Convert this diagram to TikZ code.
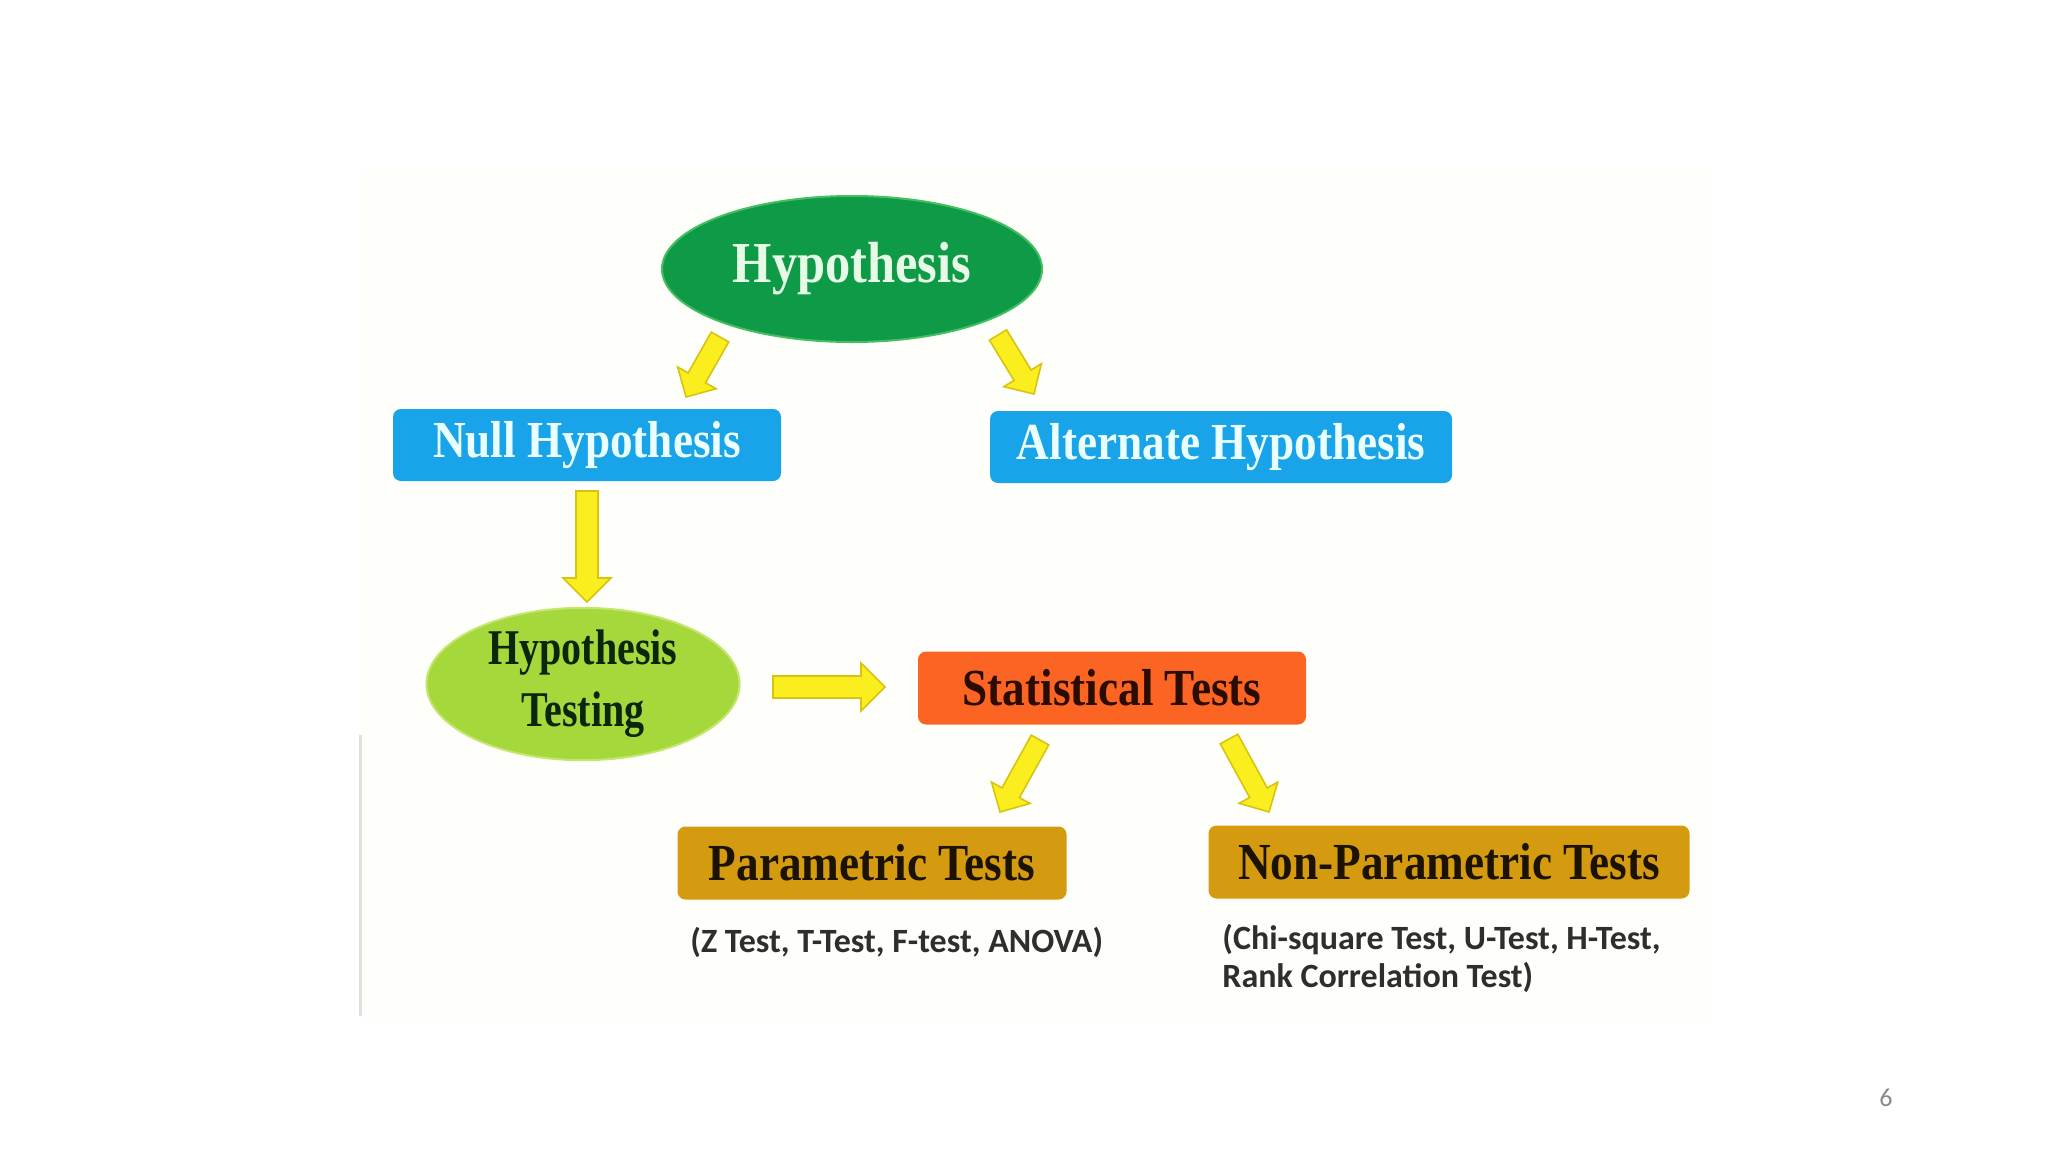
\documentclass[tikz,border=0pt]{standalone}
\usepackage{fontspec}
\usetikzlibrary{calc,shapes.geometric}
\setmainfont{Liberation Serif}
\newfontfamily\boxfont[FakeStretch=0.87]{Liberation Serif}
\newfontfamily\htfont[FakeStretch=0.80]{Liberation Serif}
\newfontfamily\notefont{Carlito}
\definecolor{hypgreen}{HTML}{0F9A47}
\definecolor{hypedge}{HTML}{45BE62}
\definecolor{mint}{HTML}{E6FBE6}
\definecolor{boxblue}{HTML}{19A3E8}
\definecolor{bluetext}{HTML}{EAFFFF}
\definecolor{lime}{HTML}{A5D83B}
\definecolor{limeedge}{HTML}{C4E56E}
\definecolor{darkgreen}{HTML}{0C260C}
\definecolor{stred}{HTML}{FB6423}
\definecolor{sttext}{HTML}{2A0C00}
\definecolor{gold}{HTML}{D59B10}
\definecolor{goldtext}{HTML}{1C1200}
\definecolor{ayellow}{HTML}{FAEE1E}
\definecolor{aedge}{HTML}{D8C410}
\definecolor{notegray}{HTML}{2E2E2E}
\definecolor{cream}{HTML}{FEFEFA}
\definecolor{pagegray}{HTML}{8A8A8A}
\newcommand\yarrow[5]{% #1 start, #2 end, #3 shaft half width, #4 head half width, #5 head length
  \coordinate (#1-base) at ($(#2)!#5!(#1)$);
  \path[arrowbody] ($(#1)!#3!90:(#2)$) -- ($(#1-base)!#3!90:(#2)$) -- ($(#1-base)!#4!90:(#2)$)
    -- (#2) -- ($(#1-base)!#4!-90:(#2)$) -- ($(#1-base)!#3!-90:(#2)$) -- ($(#1)!#3!-90:(#2)$) -- cycle;
}
\begin{document}
\begin{tikzpicture}[x=0.5pt,y=-0.5pt,
  arrowbody/.style={fill=ayellow, draw=aedge, line width=0.8pt, line join=miter},
  boxbase/.style={rectangle, rounded corners=4pt, inner sep=0pt,
    font=\boxfont\bfseries\fontsize{26}{30}\selectfont},
  bluebox/.style={boxbase, fill=boxblue, text=bluetext, minimum height=36pt},
  redbox/.style={boxbase, fill=stred, text=sttext, minimum height=36.5pt},
  goldbox/.style={boxbase, fill=gold, text=goldtext, minimum height=36.5pt},
  note/.style={font=\notefont\bfseries\fontsize{17}{19}\selectfont, text=notegray, inner sep=0pt, align=left}
]
\useasboundingbox (0,0) rectangle (2048,1152);
\fill[white] (0,0) rectangle (2048,1152);
\fill[cream] (359,170) rectangle (1711,1019);
\draw[line width=1.5pt, color=black!12] (360,735) -- (360,1016);

\node[ellipse, fill=hypgreen, draw=hypedge, line width=1pt, minimum width=190pt, minimum height=73pt,
  inner sep=0pt, text=mint, font=\boxfont\bfseries\fontsize{29}{32}\selectfont] (hyp) at (852,269) {Hypothesis};
\node[bluebox, minimum width=194pt] (null) at (587,445) {Null Hypothesis};
\node[bluebox, minimum width=231pt] (alt) at (1221,447) {Alternate Hypothesis};
\node[ellipse, fill=lime, draw=limeedge, line width=1pt, minimum width=156.5pt, minimum height=69.5pt,
  inner sep=0pt, text=darkgreen, align=center,
  font=\htfont\bfseries\fontsize{25}{31}\selectfont] (ht) at (583,684) {Hypothesis\\Testing};
\node[redbox, minimum width=194pt] (st) at (1112,688) {Statistical Tests};
\node[goldbox, minimum width=194.5pt] (par) at (872,863) {Parametric Tests};
\node[goldbox, minimum width=240.5pt] (npar) at (1449,862) {Non-Parametric Tests};

\node[note, anchor=west] (parnote) at (690,942) {(Z Test, T-Test, F-test, ANOVA)};
\node[note, anchor=west] (nparnote) at (1222,958) {(Chi-square Test, U-Test, H-Test,\\Rank Correlation Test)};

\node[font=\notefont\fontsize{13}{15}\selectfont, text=pagegray, inner sep=0pt] (page) at (1886,1098) {6};

\coordinate (a1s) at (720,337);
\coordinate (a1e) at (686,397);
\coordinate (a2s) at (998,335);
\coordinate (a2e) at (1034,394);
\coordinate (a3s) at (587,491);
\coordinate (a3e) at (587,602);
\coordinate (a4s) at (773,687);
\coordinate (a4e) at (885,687);
\coordinate (a5s) at (1040,740);
\coordinate (a5e) at (1000,812);
\coordinate (a6s) at (1229,739);
\coordinate (a6e) at (1269,812);

\yarrow{a1s}{a1e}{5pt}{11pt}{11pt}
\yarrow{a2s}{a2e}{5pt}{11pt}{11pt}
\yarrow{a3s}{a3e}{5.5pt}{12pt}{12pt}
\yarrow{a4s}{a4e}{5.5pt}{12pt}{12pt}
\yarrow{a5s}{a5e}{5pt}{11pt}{11pt}
\yarrow{a6s}{a6e}{5pt}{11pt}{11pt}
\end{tikzpicture}
\end{document}
